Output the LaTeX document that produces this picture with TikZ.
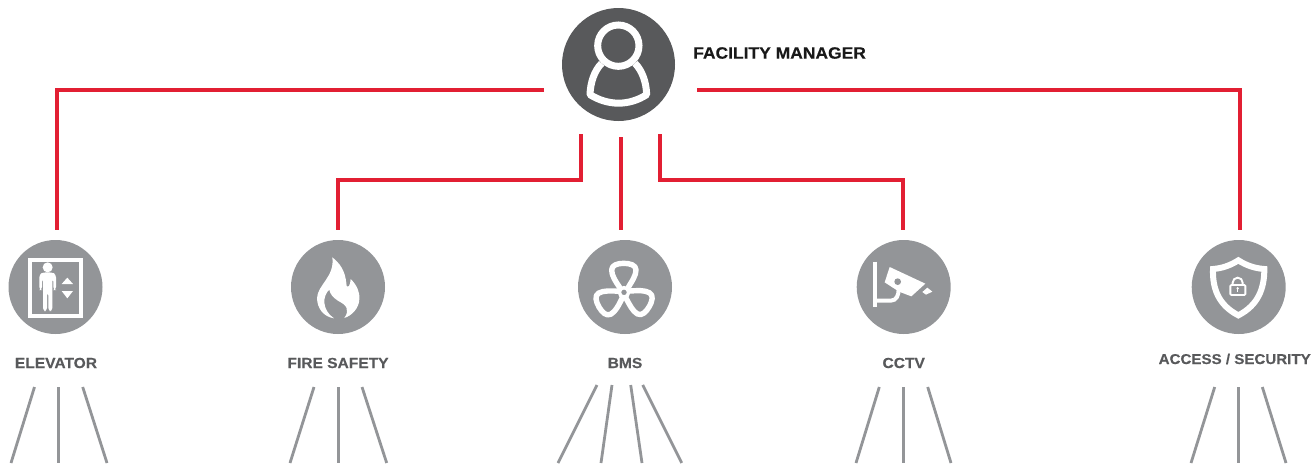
\documentclass[tikz,border=0pt]{standalone}
\usepackage{fontspec}
\setmainfont{Liberation Sans}[FakeStretch=1.065,BoldFeatures={FakeBold=0.25}]
\definecolor{dk}{HTML}{58595B}
\definecolor{md}{HTML}{939598}
\definecolor{rd}{HTML}{E21F33}
\tikzset{
 hub/.style={circle,fill=md,minimum size=94pt,inner sep=0pt},
 boss/.style={circle,fill=dk,minimum size=113pt,inner sep=0pt},
 redline/.style={draw=rd,line width=4pt},
 feed/.style={draw=md,line width=2.8pt},
 lab/.style={text=dk,font=\fontsize{14.6}{16}\selectfont\bfseries,inner sep=0pt},
 ico/.style={line width=#1,draw=white,fill=none},
 zoomA/.style={x=0.33333pt,y=-0.33333pt}
}
\begin{document}
\begin{tikzpicture}[x=1pt,y=-1pt]
\useasboundingbox (0,0) rectangle (1313,463);
% nodes
\node[boss] (mgr) at (618.5,64.5) {};
\node[hub] (elev) at (55.5,287) {};
\node[hub] (fire) at (338,287) {};
\node[hub] (bms) at (625,287) {};
\node[hub] (cctv) at (903.7,287) {};
\node[hub] (acc) at (1238.7,287) {};
\node[inner sep=0pt,anchor=west,text=black!90,font=\fontsize{16.4}{18}\selectfont\bfseries] (mgrl) at (693,53) {FACILITY MANAGER};
\node[lab] (elevl) at (56,363) {ELEVATOR};
\node[lab] (firel) at (338,363) {FIRE SAFETY};
\node[lab] (bmsl) at (625,363) {BMS};
\node[lab] (cctvl) at (903.7,363) {CCTV};
\node[lab,font=\fontsize{14.2}{16}\selectfont\bfseries] (accl) at (1234.7,359) {ACCESS / SECURITY};
% connector ends
\coordinate (mL) at (544,89.5);
\coordinate (mR) at (697,89.5);
\coordinate (m1) at (580.5,134);
\coordinate (m2) at (620.5,137);
\coordinate (m3) at (660,134);
\coordinate (b1) at (57,230);
\coordinate (b2) at (338,230);
\coordinate (b3) at (620.5,230);
\coordinate (b4) at (903,230);
\coordinate (b5) at (1240,230);
\draw[redline] (mL) -| (b1);
\draw[redline] (mR) -| (b5);
\draw[redline] (m2) -- (b3);
\draw[redline] (m1) |- (450,179.5) -| (b2);
\draw[redline] (m3) |- (780,179.5) -| (b4);
% feeders
\foreach \a/\b in {34.5/11,58.5/58.5,82.7/107,314/290,338.5/338.5,362/386.7,879.3/856,903.5/903.5,927.7/951,1214.7/1191,1238.5/1238.5,1262.3/1286}{
 \coordinate (ft) at (\a,387); \coordinate (fb) at (\b,463);
 \draw[feed] (ft) -- (fb);
}
\foreach \a/\b in {597/558,612/601,630.7/642,642.7/681.7}{
 \coordinate (ft) at (\a,385); \coordinate (fb) at (\b,463);
 \draw[feed] (ft) -- (fb);
}
% manager icon
\begin{scope}[shift={(555,0)},zoomA]
 \draw[ico=7pt] (190,137) circle (62);
 \draw[ico=7pt,line join=round] (140,190) .. controls (118,212) and (106,248) .. (105,284)
   .. controls (160,318) and (222,318) .. (275,284)
   .. controls (274,248) and (262,212) .. (240,190);
\end{scope}
% elevator icon
\begin{scope}[shift={(0,235)},zoomA]
 \draw[ico=3.8pt] (91,74) rectangle (242,242);
 \fill[white] (143,97) circle (15);
 \fill[white,rounded corners=3pt] (118,165) -- (118,118) -- (130,112) -- (156,112) -- (168,118) -- (168,165) -- (160,165) -- (160,130) -- (157,130) -- (157,228) -- (145,228) -- (145,172) -- (141,172) -- (141,228) -- (129,228) -- (129,130) -- (126,130) -- (126,165) -- cycle;
 \fill[white] (202,128) -- (219,147) -- (185,147) -- cycle;
 \fill[white] (202,190) -- (219,168) -- (185,168) -- cycle;
\end{scope}
% flame icon
\begin{scope}[shift={(285,235)},zoomA]
 \fill[white] (142,67) .. controls (178,95) and (182,125) .. (185,153)
   .. controls (190,160) and (196,150) .. (197,132)
   .. controls (215,150) and (225,170) .. (223,193)
   .. controls (222,220) and (200,242) .. (178,249)
   .. controls (195,225) and (185,210) .. (160,198)
   .. controls (145,188) and (135,178) .. (133,164)
   .. controls (112,182) and (110,225) .. (147,250)
   .. controls (115,245) and (97,220) .. (96,190)
   .. controls (97,150) and (150,125) .. (142,67) -- cycle;
\end{scope}
% fan icon
\begin{scope}[shift={(570,235)},zoomA]
 \foreach \r in {0,120,240}{
  \draw[ico=5.4pt,line join=round,rotate around={\r:(162,172)}] (152,162) .. controls (136,138) and (125,122) .. (125,105)
    .. controls (125,90) and (143,85) .. (161,85)
    .. controls (180,85) and (198,90) .. (198,105)
    .. controls (198,122) and (186,138) .. (172,162);
 }
 \fill[md] (162,172) circle (14);
 \draw[ico=3.4pt] (162,172) circle (14);
\end{scope}
% camera icon
\begin{scope}[shift={(850,235)},zoomA]
 \draw[ico=4.2pt] (75,80) -- (75,216);
 \draw[ico=4pt] (75,197) -- (122,197) .. controls (140,197) and (146,180) .. (146,162);
 \fill[white] (119,96) -- (226,146) -- (184,184) -- (147,170) -- (104,142) -- cycle;
 \fill[md] (143,140) circle (10);
 \fill[white] (217,171) -- (232,158) -- (247,170) -- (228,179) -- cycle;
\end{scope}
% shield icon
\begin{scope}[shift={(1185,235)},zoomA]
 \draw[ico=6pt,line join=miter] (160,76) .. controls (135,92) and (110,100) .. (84,102)
   .. controls (82,160) and (100,210) .. (160,241)
   .. controls (220,210) and (238,160) .. (238,102)
   .. controls (210,100) and (185,92) .. (160,76) -- cycle;
 \draw[ico=1.9pt,rounded corners=1pt] (136,150) rectangle (181,180);
 \draw[ico=1.9pt] (143,150) -- (143,143) arc[start angle=180,end angle=360,radius=15] -- (173,150);
 \fill[white] (158,160) circle (4);
 \fill[white] (156,160) rectangle (160,170);
\end{scope}
\end{tikzpicture}
\end{document}
